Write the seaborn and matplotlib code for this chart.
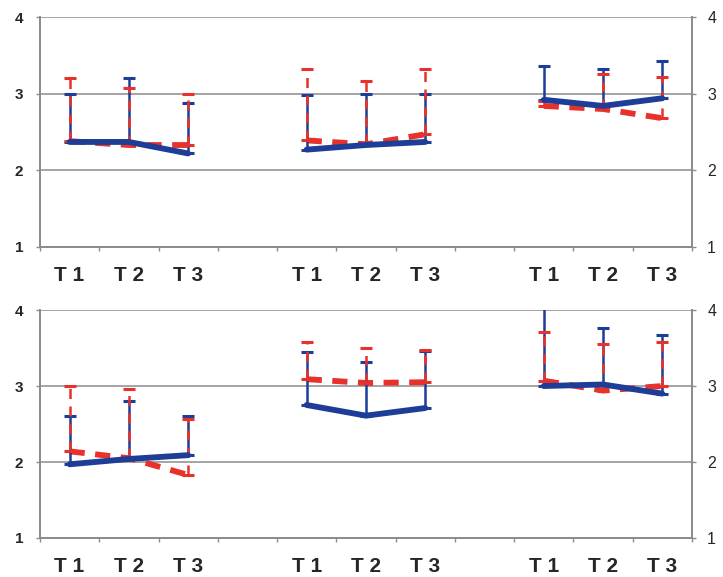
import numpy as np
import pandas as pd
import matplotlib
matplotlib.use("Agg")
import matplotlib.pyplot as plt
import seaborn as sns

# ---- data -------------------------------------------------------------
time_labels = ["T 1", "T 2", "T 3"]
n_groups = 3

top_blue_mean = [2.37, 2.37, 2.22, 2.27, 2.33, 2.37, 2.92, 2.84, 2.94]
top_blue_upper = [3.00, 3.21, 2.88, 2.98, 3.00, 3.00, 3.36, 3.32, 3.43]
top_red_mean = [2.38, 2.33, 2.33, 2.39, 2.34, 2.47, 2.84, 2.80, 2.68]
top_red_upper = [3.21, 3.08, 2.99, 3.32, 3.17, 3.32, 2.90, 3.26, 3.22]

bottom_blue_mean = [1.97, 2.04, 2.09, 2.75, 2.61, 2.71, 3.00, 3.02, 2.90]
bottom_blue_upper = [2.61, 2.80, 2.61, 3.45, 3.31, 3.46, 4.10, 3.76, 3.67]
bottom_red_mean = [2.14, 2.05, 1.83, 3.09, 3.04, 3.05, 3.07, 2.94, 3.00]
bottom_red_upper = [3.00, 2.96, 2.56, 3.58, 3.50, 3.47, 3.71, 3.55, 3.58]

y_ticks = [1, 2, 3, 4]

BLUE = "#1d3d96"
RED = "#e8312b"
GRID = "#8c8c8c"

sns.set_theme(style="white")
plt.rcParams["font.family"] = ["Liberation Sans", "DejaVu Sans"]

n_t = len(time_labels)
slot = n_t + 1  # one empty category between groups
positions = [g * slot + t for g in range(n_groups) for t in range(n_t)]
n_slots = n_groups * slot - 1


def build_frame(blue_mean, red_mean):
    rows = []
    for i, p in enumerate(positions):
        g = i // n_t
        rows.append({"pos": p, "val": blue_mean[i], "series": "blue", "grp": g})
        rows.append({"pos": p, "val": red_mean[i], "series": "red", "grp": g})
    return pd.DataFrame(rows)


def draw_panel(ax, blue_mean, blue_upper, red_mean, red_upper):
    df = build_frame(blue_mean, red_mean)
    ax.set_xlim(-0.5, n_slots - 0.5)
    ax.set_ylim(1, 4)

    for y in y_ticks:
        ax.axhline(y, color=GRID, lw=1.1, zorder=0)

    pos = np.array(positions, dtype=float)
    bm, bu = np.array(blue_mean), np.array(blue_upper)
    rm, ru = np.array(red_mean), np.array(red_upper)

    # red mean line (dashed) underneath
    n_before = len(ax.lines)
    sns.lineplot(data=df[df.series == "red"], x="pos", y="val", units="grp",
                 estimator=None, color=RED, lw=4.2, ax=ax, zorder=2,
                 legend=False)
    for ln in ax.lines[n_before:]:
        ln.set_dashes([2.6, 1.8])
        ln.set_dash_capstyle("butt")

    # blue upper error bars
    ax.errorbar(pos, bm, yerr=[np.zeros_like(bm), bu - bm], fmt="none",
                ecolor=BLUE, elinewidth=1.8, capsize=4, capthick=2.2, zorder=3)
    # red upper error bars (dashed)
    eb = ax.errorbar(pos, rm, yerr=[np.zeros_like(rm), ru - rm], fmt="none",
                     ecolor=RED, elinewidth=1.8, capsize=4, capthick=2.2, zorder=4)
    eb[2][0].set_linestyle((0, (4, 3)))

    # blue mean line (solid) on top
    sns.lineplot(data=df[df.series == "blue"], x="pos", y="val", units="grp",
                 estimator=None, color=BLUE, lw=4.2, ax=ax, zorder=5,
                 legend=False)

    ax.set_xlabel("")
    ax.set_ylabel("")

    # category boundary ticks, labels centred on the categories
    ax.set_xticks(np.arange(-0.5, n_slots, 1.0))
    ax.set_xticklabels([])
    ax.set_xticks(pos, minor=True)
    ax.set_xticklabels(time_labels * n_groups, minor=True,
                       fontsize=15, fontweight="bold")
    ax.tick_params(axis="x", which="major", direction="out", length=3,
                   width=1, color=GRID, bottom=True)
    ax.tick_params(axis="x", which="minor", length=0, pad=14)

    ax.set_yticks(y_ticks)
    ax.set_yticklabels([str(v) for v in y_ticks], fontsize=11, fontweight="bold")
    ax.tick_params(axis="y", which="major", direction="out", length=3,
                   width=1, color=GRID, left=True, pad=9)

    ax2 = ax.twinx()
    ax2.set_ylim(ax.get_ylim())
    ax2.set_yticks(y_ticks)
    ax2.set_yticklabels([str(v) for v in y_ticks], fontsize=11.5)
    ax2.tick_params(axis="y", direction="out", length=3, width=1,
                    color=GRID, right=True, pad=8)

    for a in (ax, ax2):
        a.spines["top"].set_visible(False)
        for s in ("left", "right", "bottom"):
            a.spines[s].set_color(GRID)
            a.spines[s].set_linewidth(1.3)
        a.grid(False)


fig = plt.figure(figsize=(7.23, 5.77), dpi=100)
ax_top = fig.add_axes([0.0553, 0.572, 0.9017, 0.3985])
ax_bot = fig.add_axes([0.0553, 0.0676, 0.9017, 0.3951])

draw_panel(ax_top, top_blue_mean, top_blue_upper, top_red_mean, top_red_upper)
draw_panel(ax_bot, bottom_blue_mean, bottom_blue_upper, bottom_red_mean, bottom_red_upper)

fig.savefig("out.png", dpi=100, facecolor="white")
